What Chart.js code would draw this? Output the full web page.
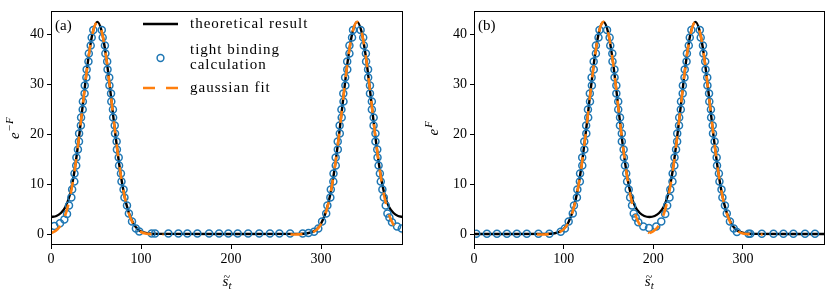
<!DOCTYPE html>
<html lang="en">
<head>
<meta charset="UTF-8">
<script src="https://cdn.jsdelivr.net/npm/chart.js"></script>
<title>e^-F and e^F</title>
<style>
  body { margin: 0; background: #fff; width: 830px; height: 295px; overflow: hidden; position: relative; }
  canvas { position: absolute; top: 0; }
  #chart-a { left: 0; }
  #chart-b { left: 415px; }
</style>
</head>
<body>
<canvas id="chart-a" width="410" height="295"></canvas>
<canvas id="chart-b" width="415" height="295"></canvas>
<script>
// axes
const xTicks = [0, 100, 200, 300];
const yTicks = [0, 10, 20, 30, 40];
const xMin = 0, xMax = 391;
const yMin = -2.1, yMax = 44.6;

// panel (a): e^{-F}
const aTheoryX = [0, 6, 11, 16, 21, 26, 31.5, 36.5, 41.5, 46.5, 51.5, 56.5, 61.5, 66.5, 71.5, 76.5, 81.5, 86.5, 91.5, 96.5, 101.5, 106.5, 111.5, 120, 200,
  275, 280, 285, 290, 295, 300, 305, 310, 315, 320, 325, 330, 335, 340, 345, 350, 355, 360, 365.5, 370.5, 375.5, 380.5, 385.5, 391];
const aTheoryY = [3.5, 3.7, 4.3, 5.5, 8.0, 12.6, 20.0, 27.8, 35.2, 40.5, 42.5, 40.5, 35.2, 27.8, 20.0, 13.1, 7.8, 4.3, 2.2, 1.0, 0.52, 0.25, 0.15, 0.12, 0.1,
  0.12, 0.15, 0.25, 0.52, 1.0, 2.2, 4.3, 7.8, 13.1, 20.0, 27.8, 35.2, 40.5, 42.5, 40.5, 35.2, 27.8, 20.0, 12.6, 8.0, 5.5, 4.3, 3.7, 3.5];

const aFitX = [0, 5, 10, 15, 20, 25, 30, 35, 40, 45, 51.5, 55, 60, 65, 70, 75, 80, 85, 90, 95, 100, 105, 110, 115, 125,
  200,
  266, 270, 275, 280, 285, 290, 295, 300, 305, 310, 315, 320, 325, 330, 335, 340, 345, 350, 355, 360, 365, 370, 375, 380, 385, 391];
const aFitY = [0.29, 0.72, 1.65, 3.44, 6.54, 11.3, 17.8, 25.4, 33.1, 39.2, 42.5, 41.5, 37.1, 30.1, 22.3, 15.0, 9.18, 5.12, 2.59, 1.2, 0.5, 0.19, 0.07, 0.02, 0,
  null,
  0, 0, 0.015, 0.05, 0.14, 0.38, 0.93, 2.08, 4.22, 7.78, 13.1, 20.0, 27.8, 35.2, 40.5, 42.5, 40.5, 35.2, 27.8, 20.0, 13.1, 7.78, 4.22, 2.08, 0.93, 0.32];

const aTbX = [3.7, 10.0, 14.8, 17.8, 20.0, 22.6, 23.5, 25.9, 26.1, 28.0, 28.2, 29.9, 31.1, 31.2, 33.2, 33.4, 35.2, 35.4, 37.3, 37.5, 39.3, 39.6, 41.6, 42.0, 44.1, 45.2, 47.0,
  56.4, 57.4, 59.9, 60.4, 62.4, 62.8, 64.7, 64.9, 66.7, 67.0, 68.8, 69.0, 70.8, 71.1, 72.9, 73.2, 75.2, 75.6, 77.7, 78.3, 80.6, 81.6, 84.4, 86.5, 90.0, 94.3, 98.1,
  111.8, 115.6, 130.4, 141.5, 151.5, 162.6, 175.6, 186.7, 197.0, 207.4, 219.0, 231.3, 243.2, 253.7, 265.6, 279.6, 286.0,
  292.2, 296.9, 301.1, 305.7, 307.0, 310.3, 310.8, 313.6, 313.8, 316.3, 316.2, 318.6, 318.5, 320.8, 320.6, 322.9, 322.6, 324.9, 324.7, 327.0, 326.7, 329.1, 329.0, 331.5, 331.5, 334.4, 335.5,
  343.9, 346.8, 347.5, 349.8, 350.0, 352.2, 352.3, 354.3, 354.3, 356.4, 356.4, 358.4, 358.3, 360.4, 360.4, 362.4, 362.7, 363.9, 365.3, 366.3, 368.1, 369.7, 371.8, 373.7, 375.9, 378.8, 384.4, 389.6];
const aTbY = [1.7, 2.25, 3.0, 4.1, 5.8, 7.4, 9.0, 10.6, 12.2, 13.8, 15.4, 17.0, 18.6, 20.2, 21.8, 23.4, 25.0, 26.6, 28.2, 29.8, 31.4, 33.0, 34.6, 36.2, 37.8, 39.4, 40.9,
  40.9, 39.4, 37.8, 36.2, 34.6, 33.0, 31.4, 29.8, 28.2, 26.6, 25.0, 23.4, 21.8, 20.2, 18.6, 17.0, 15.4, 13.8, 12.2, 10.6, 9.0, 7.4, 5.8, 4.2, 2.6, 1.2, 0.6,
  0.2, 0.2, 0.2, 0.2, 0.2, 0.2, 0.2, 0.2, 0.2, 0.2, 0.2, 0.2, 0.2, 0.2, 0.2, 0.2, 0.3,
  0.55, 1.2, 2.6, 4.2, 5.8, 7.4, 9.0, 10.6, 12.2, 13.8, 15.4, 17.0, 18.6, 20.2, 21.8, 23.4, 25.0, 26.6, 28.2, 29.8, 31.4, 33.0, 34.6, 36.2, 37.8, 39.4, 40.9,
  40.9, 39.4, 37.8, 36.2, 34.6, 33.0, 31.4, 29.8, 28.2, 26.6, 25.0, 23.4, 21.8, 20.2, 18.6, 17.0, 15.4, 13.8, 12.2, 10.6, 9.0, 7.4, 5.8, 4.2, 3.4, 2.45, 1.6, 1.2];

// panel (b): e^{F}
const bTheoryX = [0, 40, 80, 85, 90, 95, 100, 105, 110, 115, 120, 125, 130, 135, 140, 144.5, 150, 155, 160, 165, 170, 175, 180, 185, 190, 195.75,
  201.5, 206.5, 211.5, 216.5, 221.5, 227, 232, 237, 242, 247, 252, 257, 262, 267, 272, 277, 282, 287, 292, 297, 302, 307, 312, 350, 391];
const bTheoryY = [0.1, 0.1, 0.12, 0.15, 0.25, 0.52, 1.1, 2.3, 4.6, 8.3, 13.8, 20.8, 28.7, 35.9, 40.9, 42.5, 40.1, 34.5, 27.0, 19.2, 12.6, 8.0, 5.5, 4.3, 3.7, 3.5,
  3.7, 4.3, 5.5, 8.0, 12.6, 20.0, 27.8, 35.2, 40.5, 42.5, 40.5, 35.2, 27.8, 20.0, 13.1, 7.8, 4.3, 2.2, 1.0, 0.52, 0.25, 0.15, 0.12, 0.1, 0.1];

const bFitX = [70, 75, 80, 85, 90, 95, 100, 105, 110, 115, 120, 125, 130, 135, 140, 144.5, 150, 155, 160, 165, 170, 175, 180, 185, 190, 195.75,
  195.76,
  195.77, 200, 205, 210, 215, 220, 225, 230, 235, 240, 247, 250, 255, 260, 265, 270, 275, 280, 285, 290, 295, 300, 305, 310, 315, 322];
const bFitY = [0, 0, 0.02, 0.05, 0.15, 0.42, 1.01, 2.24, 4.5, 8.23, 13.7, 20.7, 28.6, 35.8, 40.9, 42.5, 40.1, 34.5, 27.0, 19.2, 12.5, 7.35, 3.94, 1.93, 0.85, 0.3,
  null,
  0.3, 0.66, 1.52, 3.21, 6.15, 10.7, 17.0, 24.6, 32.4, 38.7, 42.5, 41.8, 37.7, 30.9, 23.1, 15.7, 9.68, 5.44, 2.79, 1.3, 0.55, 0.21, 0.075, 0.024, 0.007, 0];

const bTbX = [2.6, 14.4, 25.6, 36.7, 47.8, 58.9, 71.9, 84.1,
  96.7, 101.4, 105.6, 110.2, 111.5, 114.8, 115.3, 118.1, 118.3, 120.8, 120.7, 123.1, 123.0, 125.3, 125.1, 127.4, 127.1, 129.4, 129.2, 131.5, 131.2, 133.6, 133.5, 136.0, 136.0, 138.9, 140.0,
  148.4, 151.3, 152.0, 154.3, 154.5, 156.7, 156.8, 158.8, 158.8, 160.9, 160.9, 162.9, 162.8, 164.9, 164.9, 166.9, 167.2, 168.4, 169.8, 170.8, 172.6, 174.2, 176.3, 178.2, 180.4, 183.3, 188.9, 195.2,
  203.3, 208.9, 213.3, 215.5, 218.1, 219.0, 221.4, 221.6, 223.5, 223.7, 225.4, 226.6, 226.7, 228.7, 228.9, 230.7, 230.9, 232.8, 233.0, 234.8, 235.1, 237.1, 237.5, 239.6, 240.7, 242.5,
  251.9, 252.9, 255.4, 255.9, 257.9, 258.3, 260.2, 260.4, 262.2, 262.5, 264.3, 264.5, 266.3, 266.6, 268.4, 268.7, 270.7, 271.1, 273.2, 273.8, 276.1, 277.1, 279.9, 282.0, 285.5, 289.8, 293.3,
  306.3, 308.2, 321.1, 334.1, 345.2, 356.3, 369.3, 380.4];
const bTbY = [0.15, 0.15, 0.15, 0.15, 0.15, 0.15, 0.15, 0.15,
  0.55, 1.2, 2.6, 4.2, 5.8, 7.4, 9.0, 10.6, 12.2, 13.8, 15.4, 17.0, 18.6, 20.2, 21.8, 23.4, 25.0, 26.6, 28.2, 29.8, 31.4, 33.0, 34.6, 36.2, 37.8, 39.4, 40.9,
  40.9, 39.4, 37.8, 36.2, 34.6, 33.0, 31.4, 29.8, 28.2, 26.6, 25.0, 23.4, 21.8, 20.2, 18.6, 17.0, 15.4, 13.8, 12.2, 10.6, 9.0, 7.4, 5.8, 4.2, 3.4, 2.45, 1.6, 1.3,
  1.6, 2.6, 4.1, 5.8, 7.4, 9.0, 10.6, 12.2, 13.8, 15.4, 17.0, 18.6, 20.2, 21.8, 23.4, 25.0, 26.6, 28.2, 29.8, 31.4, 33.0, 34.6, 36.2, 37.8, 39.4, 40.9,
  40.9, 39.4, 37.8, 36.2, 34.6, 33.0, 31.4, 29.8, 28.2, 26.6, 25.0, 23.4, 21.8, 20.2, 18.6, 17.0, 15.4, 13.8, 12.2, 10.6, 9.0, 7.4, 5.8, 4.2, 2.6, 1.2, 0.5,
  0.15, 0.15, 0.15, 0.15, 0.15, 0.15, 0.15, 0.15];

const legendLabels = ['theoretical result', ['tight binding', 'calculation'], 'gaussian fit'];

const FONT = '"Liberation Serif", "DejaVu Serif", serif';
const BLUE = '#1f77b4', ORANGE = '#ff7f0e';
const DASH = [12, 11];

function pts(xs, ys) {
    return xs.map((x, i) => ({ x: x, y: ys[i] }));
}

// y label like e^{-F}: base letter + superscript, rotated
function drawYLabel(c, x, y, sup) {
    c.save();
    c.translate(x, y);
    c.rotate(-Math.PI / 2);
    c.fillStyle = '#000';
    c.textBaseline = 'alphabetic';
    c.font = 'italic 15px ' + FONT;
    const w1 = c.measureText('e').width;
    c.font = 'italic 11px ' + FONT;
    const w2 = c.measureText(sup).width;
    const x0 = -(w1 + w2 + 1) / 2;
    c.font = 'italic 15px ' + FONT;
    c.fillText('e', x0, 0);
    c.font = 'italic 11px ' + FONT;
    c.fillText(sup, x0 + w1 + 1, -6);
    c.restore();
}

function drawXLabel(c, x, y) {
    c.save();
    c.fillStyle = '#000';
    c.textBaseline = 'alphabetic';
    c.font = 'italic 15px ' + FONT;
    const w1 = c.measureText('s').width;
    c.font = 'italic 11px ' + FONT;
    const w2 = c.measureText('t').width;
    const x0 = x - (w1 + w2) / 2;
    c.font = 'italic 15px ' + FONT;
    c.fillText('s', x0, y);
    c.font = '12px ' + FONT;
    c.fillText('~', x0 + 1, y - 5);
    c.font = 'italic 11px ' + FONT;
    c.fillText('t', x0 + w1, y + 3);
    c.restore();
}

function decor(letter, sup, yLabelX, withLegend) {
    return {
        id: 'decor',
        afterDraw(chart) {
            const c = chart.ctx, a = chart.chartArea;
            c.save();
            c.strokeStyle = '#000';
            c.lineWidth = 1;
            c.strokeRect(Math.round(a.left) + 0.5, Math.round(a.top) + 0.5,
                Math.round(a.right - a.left) - 1, Math.round(a.bottom - a.top) - 1);

            c.fillStyle = '#000';
            c.font = '15px ' + FONT;
            c.textBaseline = 'alphabetic';
            c.textAlign = 'left';
            c.fillText('(' + letter + ')', a.left + 4, a.top + 19);

            drawYLabel(c, yLabelX, (a.top + a.bottom) / 2, sup);
            drawXLabel(c, (a.left + a.right) / 2, 286);

            if (withLegend) {
                const hx0 = a.left + 92, hx1 = a.left + 127, tx = a.left + 139;
                c.textBaseline = 'middle';
                c.font = '15px ' + FONT;
                c.letterSpacing = '1px';
                // theory
                c.strokeStyle = '#000';
                c.lineWidth = 2.4;
                c.beginPath(); c.moveTo(hx0, 24); c.lineTo(hx1, 24); c.stroke();
                c.fillText(legendLabels[0], tx, 24);
                // tight binding
                c.strokeStyle = BLUE;
                c.lineWidth = 1.5;
                c.beginPath(); c.arc((hx0 + hx1) / 2, 58, 3.4, 0, Math.PI * 2); c.stroke();
                c.fillText(legendLabels[1][0], tx, 50);
                c.fillText(legendLabels[1][1], tx, 65);
                // fit
                c.strokeStyle = ORANGE;
                c.lineWidth = 2.6;
                c.setLineDash(DASH);
                c.beginPath(); c.moveTo(hx0, 88); c.lineTo(hx1, 88); c.stroke();
                c.setLineDash([]);
                c.fillText(legendLabels[2], tx, 88);
                c.letterSpacing = '0px';
            }
            c.restore();
        }
    };
}

function makeChart(id, d, yWidth, rightPad, letter, sup, yLabelX, withLegend) {
    return new Chart(document.getElementById(id), {
        type: 'scatter',
        data: {
            datasets: [{
                label: 'theoretical result',
                data: pts(d.thX, d.thY),
                showLine: true,
                borderColor: '#000',
                borderWidth: 2.4,
                pointRadius: 0,
                cubicInterpolationMode: 'monotone',
                order: 3
            }, {
                label: 'tight binding calculation',
                data: pts(d.tbX, d.tbY),
                showLine: false,
                borderColor: BLUE,
                backgroundColor: 'rgba(0,0,0,0)',
                borderWidth: 1.5,
                pointRadius: 3.5,
                order: 2
            }, {
                label: 'gaussian fit',
                data: pts(d.fitX, d.fitY),
                showLine: true,
                spanGaps: false,
                borderColor: ORANGE,
                borderWidth: 2.6,
                borderDash: DASH,
                pointRadius: 0,
                cubicInterpolationMode: 'monotone',
                order: 1
            }]
        },
        options: {
            responsive: false,
            animation: false,
            events: [],
            layout: { padding: { top: 4, right: rightPad, left: 0, bottom: 0 } },
            plugins: { legend: { display: false }, tooltip: { enabled: false } },
            scales: {
                x: {
                    type: 'linear', min: xMin, max: xMax,
                    afterBuildTicks: s => { s.ticks = xTicks.map(v => ({ value: v })); },
                    afterFit: s => { s.height = 50; },
                    grid: { display: true, drawOnChartArea: false, drawTicks: true, tickLength: 4, color: '#000', lineWidth: 1 },
                    border: { display: false },
                    ticks: { color: '#000', font: { family: FONT, size: 14 }, padding: 2, maxRotation: 0, autoSkip: false }
                },
                y: {
                    type: 'linear', min: yMin, max: yMax,
                    afterBuildTicks: s => { s.ticks = yTicks.map(v => ({ value: v })); },
                    afterFit: s => { s.width = yWidth; },
                    grid: { display: true, drawOnChartArea: false, drawTicks: true, tickLength: 4, color: '#000', lineWidth: 1 },
                    border: { display: false },
                    ticks: { color: '#000', font: { family: FONT, size: 14 }, padding: 3, autoSkip: false }
                }
            }
        },
        plugins: [decor(letter, sup, yLabelX, withLegend)]
    });
}

makeChart('chart-a', { thX: aTheoryX, thY: aTheoryY, tbX: aTbX, tbY: aTbY, fitX: aFitX, fitY: aFitY },
    51, 7, 'a', '\u2212F', 18.5, true);
makeChart('chart-b', { thX: bTheoryX, thY: bTheoryY, tbX: bTbX, tbY: bTbY, fitX: bFitX, fitY: bFitY },
    59, 4, 'b', 'F', 23, false);
</script>
</body>
</html>
